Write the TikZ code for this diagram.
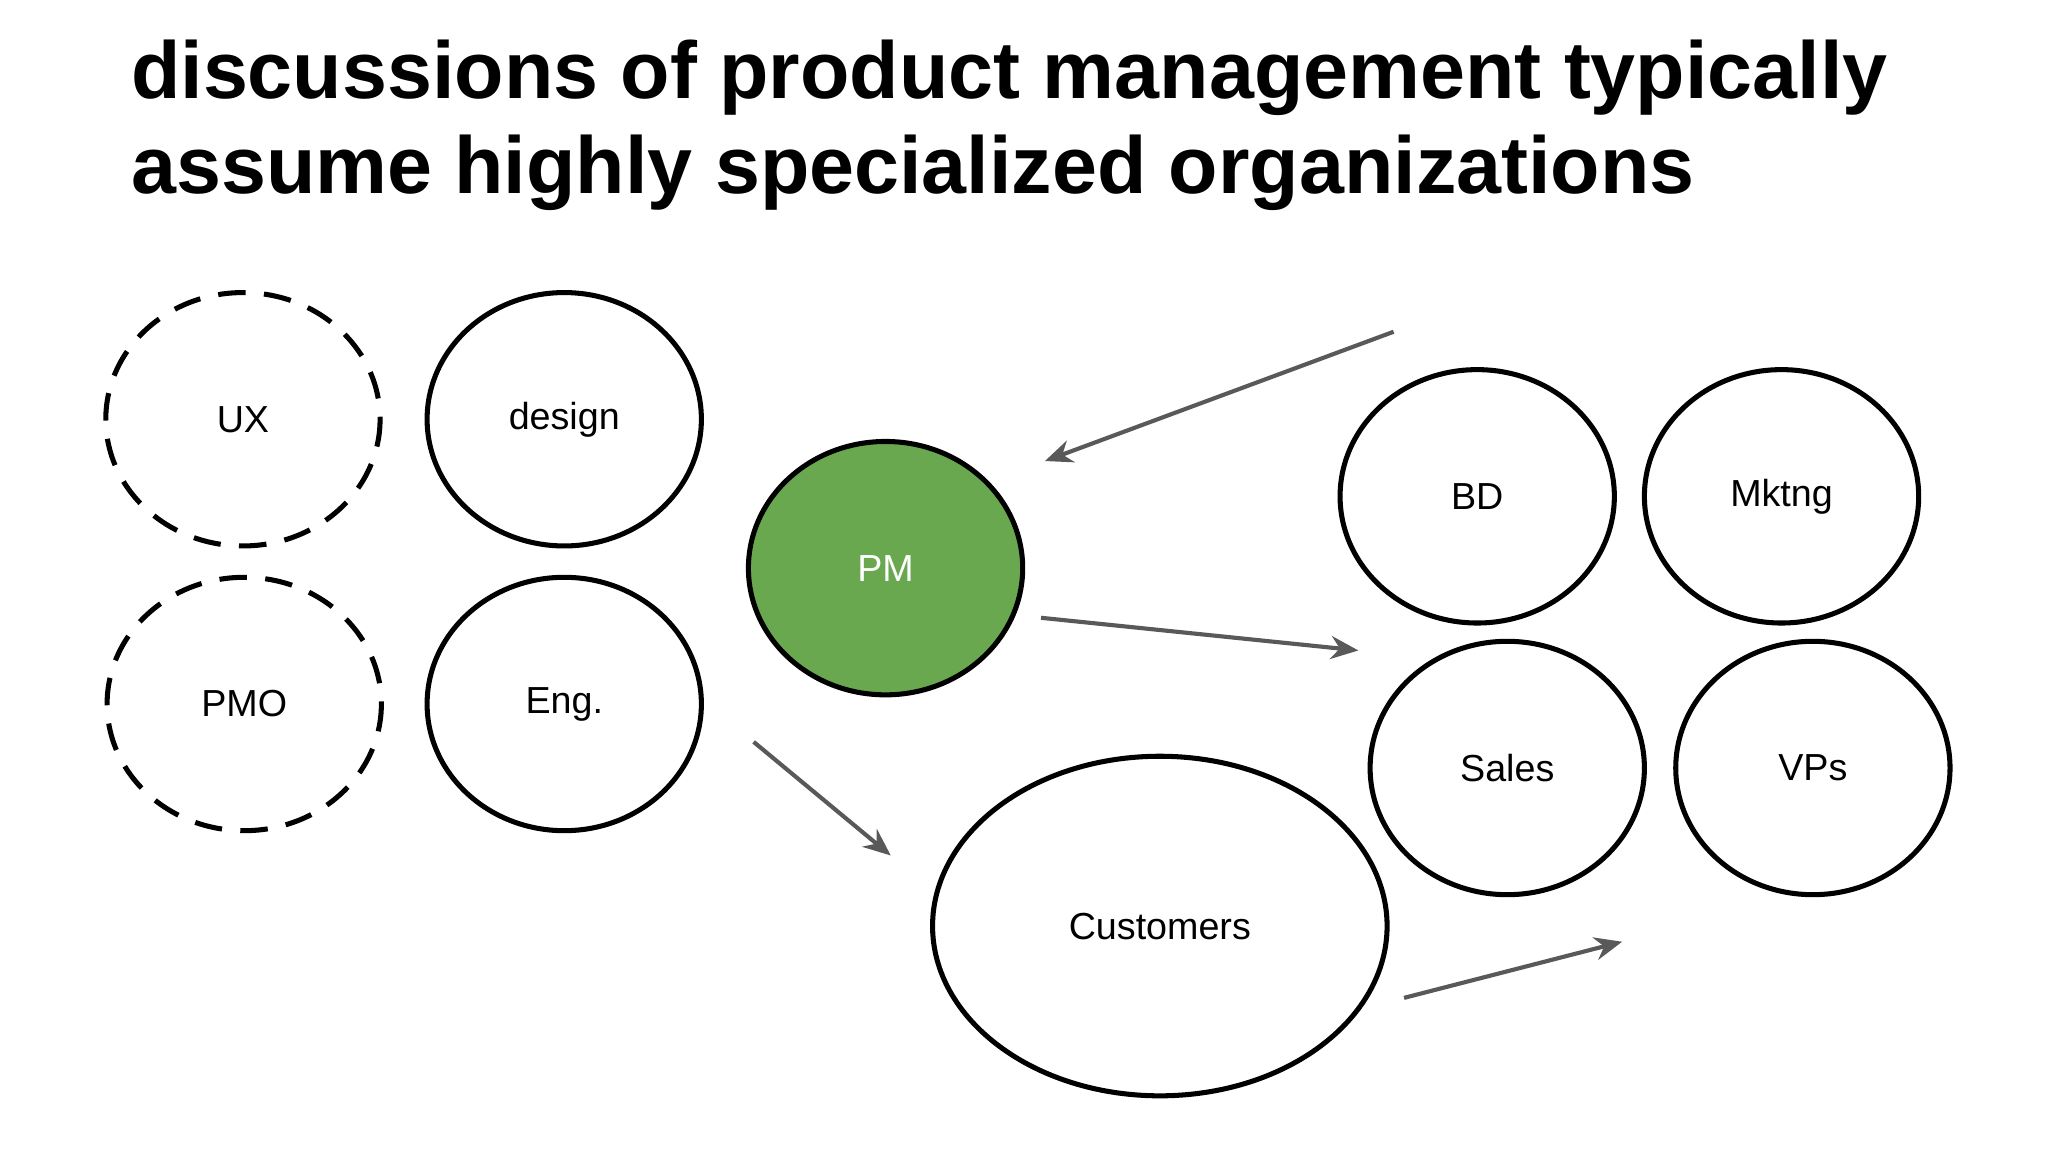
\documentclass[tikz,border=0pt]{standalone}
\usepackage{fontspec}
\setmainfont{Liberation Sans}
\usetikzlibrary{arrows.meta}
\definecolor{pmgreen}{HTML}{6AA84F}
\definecolor{arrowgray}{HTML}{595959}
\begin{document}
\begin{tikzpicture}[x=0.01cm,y=-0.01cm,
  blob/.style={draw=black,line width=1.1pt,ellipse-ish},
  ellipse-ish/.style={},
  lbl/.style={font=\fontsize{8.2pt}{10pt}\selectfont},
  conn/.style={draw=arrowgray,line width=0.9pt,-{Stealth[length=6pt,width=5pt]}}]
\useasboundingbox (0,0) rectangle (1568,882);
\node[anchor=west,font=\bfseries\fontsize{17.6pt}{20.8pt}\selectfont,align=left] (title) at (88,96)
  {discussions of product management typically\\assume highly specialized organizations};
% ellipses
\draw[line width=1.1pt,dashed,dash pattern=on 6pt off 4pt] (186,321) ellipse [x radius=105,y radius=97];
\node[lbl] (ux) at (186,321) {UX};
\draw[line width=1.1pt] (432,321) ellipse [x radius=105,y radius=97];
\node[lbl] (design) at (432,321) {design};
\draw[line width=1.1pt,dashed,dash pattern=on 6pt off 4pt] (187,539) ellipse [x radius=105,y radius=97];
\node[lbl] (pmo) at (187,539) {PMO};
\draw[line width=1.1pt] (432,539) ellipse [x radius=105,y radius=97];
\node[lbl] (eng) at (432,539) {Eng.};
\draw[line width=1.1pt,fill=pmgreen] (678,435) ellipse [x radius=105,y radius=97];
\node[lbl,text=white] (pm) at (678,435) {PM};
\draw[line width=1.1pt] (1131,380) ellipse [x radius=105,y radius=97];
\node[lbl] (bd) at (1131,380) {BD};
\draw[line width=1.1pt] (1364,380) ellipse [x radius=105,y radius=97];
\node[lbl] (mk) at (1364,380) {Mktng};
\draw[line width=1.1pt] (1154,588) ellipse [x radius=105,y radius=97];
\node[lbl] (sales) at (1154,588) {Sales};
\draw[line width=1.1pt] (1388,588) ellipse [x radius=105,y radius=97];
\node[lbl] (vps) at (1388,588) {VPs};
\draw[line width=1.1pt] (888,709) ellipse [x radius=174,y radius=130];
\node[lbl] (cust) at (888,709) {Customers};
% arrows
\coordinate (a1s) at (1067,254); \coordinate (a1e) at (800,353);
\coordinate (a2s) at (797,473); \coordinate (a2e) at (1040,498);
\coordinate (a3s) at (577,568); \coordinate (a3e) at (682,655);
\coordinate (a4s) at (1075,764); \coordinate (a4e) at (1242,721);
\draw[conn] (a1s) -- (a1e);
\draw[conn] (a2s) -- (a2e);
\draw[conn] (a3s) -- (a3e);
\draw[conn] (a4s) -- (a4e);
\end{tikzpicture}
\end{document}
